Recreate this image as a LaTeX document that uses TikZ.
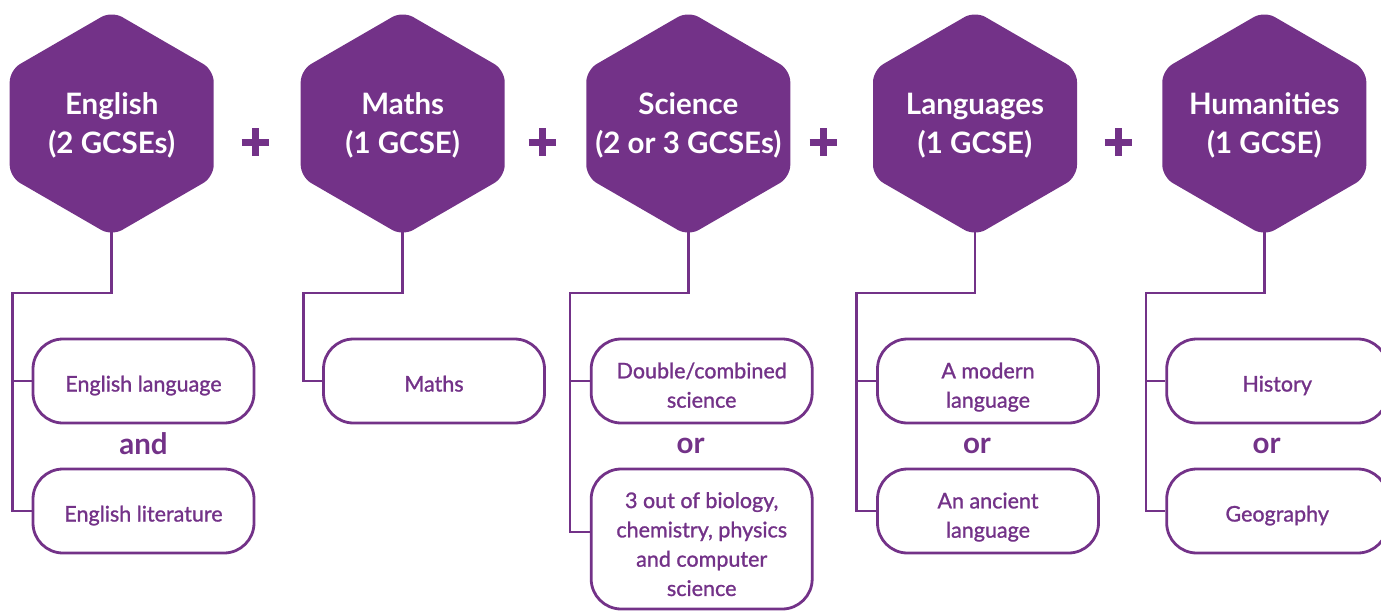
\documentclass[tikz,border=0pt]{standalone}
\usepackage{fontspec}
\setmainfont{Lato}
\newfontfamily\boxfont[FakeBold=1.2]{Lato}
\definecolor{gcse}{HTML}{733288}
% fixed line box: strut on the first and last line so every text sits alike
\newcommand\hexlines[1]{\rule{0pt}{28pt}#1\rule[-7pt]{0pt}{7pt}}
\newcommand\optlines[2][26pt]{\rule{0pt}{#1}#2\rule[-5pt]{0pt}{5pt}}
\begin{document}
\begin{tikzpicture}[x=1pt,y=-1pt,
  hexfill/.style={fill=gcse, rounded corners=12pt},
  hextext/.style={text=white, align=center, inner sep=0pt,
    font=\bfseries\fontsize{29.5}{39}\selectfont},
  option/.style={draw=gcse, line width=2.8pt, rounded corners=30pt,
    minimum width=221pt, minimum height=84pt, inner sep=0pt,
    text=gcse, align=center, font=\boxfont\fontsize{21.5}{29.3}\selectfont},
  joiner/.style={text=gcse, inner sep=0pt, font=\bfseries\fontsize{29.5}{29.5}\selectfont},
  conn/.style={draw=gcse, line width=2.8pt},
  plusmark/.style={draw=gcse, line width=7pt}]

\clip (0,0) rectangle (1381,611);

% hexagon headings: centre x, name, text
\newcommand\gcsehex[3]{%
  \fill[hexfill] (#1,11) -- (#1+102,70) -- (#1+102,177) -- (#1,236)
    -- (#1-102,177) -- (#1-102,70) -- cycle;
  \node[hextext] (#2) at (#1,123.5) {\hexlines{#3}};
  \coordinate (#2-bot) at (#1,232);}

\gcsehex{111.7}{eng}{English\\(2 GCSEs)}
\gcsehex{402.7}{mat}{Maths\\(1 GCSE)}
\gcsehex{688.3}{sci}{Science\\(2 or 3 GCSEs)}
\gcsehex{975}{lan}{Languages\\(1 GCSE)}
\gcsehex{1264.3}{hum}{Humanities\\(1 GCSE)}

% plus signs between headings
\foreach \px in {255,542,823,1118}
  \draw[plusmark] (\px,142) +(-13.5,0) -- +(13.5,0) +(0,-14) -- +(0,14);

% option boxes
\node[option] (englang) at (143.5,381) {\optlines{English language}};
\node[option] (englit)  at (143.5,511) {\optlines{English literature}};
\node[option] (maths)   at (434,381)   {\optlines{Maths}};
\node[option] (double)  at (701.7,381) {\optlines[29pt]{Double/combined\\science}};
\node[option, minimum height=140pt] (triple) at (701.7,539)
  {\optlines[31pt]{3 out of biology,\\chemistry, physics\\and computer\\science}};
\node[option] (modern)  at (988,381)   {\optlines[29pt]{A modern\\language}};
\node[option] (ancient) at (988,511)   {\optlines[29pt]{An ancient\\language}};
\node[option] (hist)    at (1277.2,381) {\optlines{History}};
\node[option] (geog)    at (1277.2,511) {\optlines{Geography}};

% joining words
\node[joiner] at (143.5,444) {and};
\node[joiner] at (690.7,445.5) {or};
\node[joiner] at (977,445.5)   {or};
\node[joiner] at (1266.7,445.5) {or};

% connectors
\coordinate (eng-sp) at (12.7,293);
\coordinate (mat-sp) at (303.3,293);
\coordinate (sci-sp) at (570,293);
\coordinate (lan-sp) at (856.7,293);
\coordinate (hum-sp) at (1146,293);

\draw[conn] (eng-bot) |- (eng-sp) |- (englit.west);
\draw[conn] (eng-sp |- englang.west) -- (englang.west);

\draw[conn] (mat-bot) |- (mat-sp) |- (maths.west);

\draw[conn] (sci-bot) |- (sci-sp) |- ([yshift=7pt]triple.west);
\draw[conn] (sci-sp |- double.west) -- (double.west);

\draw[conn] (lan-bot) |- (lan-sp) |- (ancient.west);
\draw[conn] (lan-sp |- modern.west) -- (modern.west);

\draw[conn] (hum-bot) |- (hum-sp) |- (geog.west);
\draw[conn] (hum-sp |- hist.west) -- (hist.west);
\end{tikzpicture}
\end{document}
